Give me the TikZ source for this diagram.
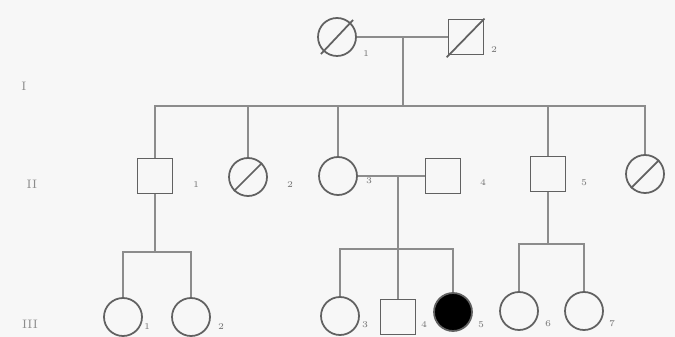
\documentclass[tikz,border=0pt]{standalone}
\begin{document}
\begin{tikzpicture}[x=0.02cm,y=-0.02cm,
  male/.style={draw=black!62,line width=1pt,minimum size=0.7cm,inner sep=0pt},
  female/.style={draw=black!62,line width=1pt,circle,minimum size=0.76cm,inner sep=0pt},
  affected/.style={fill=black},
  kin/.style={draw=black!45,line width=1pt},
  slash/.style={draw=black!62,line width=1pt},
  idx/.style={font=\tiny,text=black!55,inner sep=1pt},
  gen/.style={font=\scriptsize,text=black!45,inner sep=1pt}
]
  \fill[black!3] (0,0) rectangle (675,337);
  \useasboundingbox (0,0) rectangle (675,337);
  % Generation labels
  \node[gen] (gI) at (24,86) {I};
  \node[gen] (gII) at (32,184) {II};
  \node[gen] (gIII) at (30,324) {III};
  % Generation I
  \node[female] (I1) at (337,37) {};
  \node[male] (I2) at (466,37) {};
  \draw[slash] ([shift={(-2,3)}]I1.south west) -- ([shift={(2,-3)}]I1.north east);
  \draw[slash] ([shift={(-1,2)}]I2.south west) -- (I2.north east);
  \node[idx] (nI1) at (366,54) {1};
  \node[idx] (nI2) at (494,50) {2};
  % Generation II
  \node[male] (II1) at (155,176) {};
  \node[female] (II2) at (248,177) {};
  \node[female] (II3) at (338,176) {};
  \node[male] (II4) at (443,176) {};
  \node[male] (II5) at (548,174) {};
  \node[female] (II6) at (645,174) {};
  \draw[slash] (II2.south west) -- (II2.north east);
  \draw[slash] (II6.south west) -- (II6.north east);
  \node[idx] (nII1) at (196,185) {1};
  \node[idx] (nII2) at (290,185) {2};
  \node[idx] (nII3) at (369,181) {3};
  \node[idx] (nII4) at (483,183) {4};
  \node[idx] (nII5) at (584,183) {5};
  % Generation III
  \node[female] (III1) at (123,317) {};
  \node[female] (III2) at (191,317) {};
  \node[female] (III3) at (340,316) {};
  \node[male] (III4) at (398,317) {};
  \node[female,affected] (III5) at (453,312) {};
  \node[female] (III6) at (519,311) {};
  \node[female] (III7) at (584,311) {};
  \node[idx] (nIII1) at (147,327) {1};
  \node[idx] (nIII2) at (221,327) {2};
  \node[idx] (nIII3) at (365,325) {3};
  \node[idx] (nIII4) at (424,325) {4};
  \node[idx] (nIII5) at (481,325) {5};
  \node[idx] (nIII6) at (548,324) {6};
  \node[idx] (nIII7) at (612,324) {7};
  % Couples and descent
  \coordinate (m1) at (403,37);
  \coordinate (s1) at (403,106);
  \draw[kin] (I1) -- (I2);
  \draw[kin] (m1) -- (s1);
  \foreach \c in {II1,II2,II3,II5,II6}
    \draw[kin] (s1) -| (\c.north);
  \coordinate (s2) at (155,252);
  \draw[kin] (II1) -- (s2);
  \foreach \c in {III1,III2}
    \draw[kin] (s2) -| (\c.north);
  \coordinate (m3) at (398,176);
  \coordinate (s3) at (398,249);
  \draw[kin] (II3) -- (II4);
  \draw[kin] (m3) -- (s3);
  \foreach \c in {III3,III4,III5}
    \draw[kin] (s3) -| (\c.north);
  \coordinate (s4) at (548,244);
  \draw[kin] (II5) -- (s4);
  \foreach \c in {III6,III7}
    \draw[kin] (s4) -| (\c.north);
\end{tikzpicture}
\end{document}
